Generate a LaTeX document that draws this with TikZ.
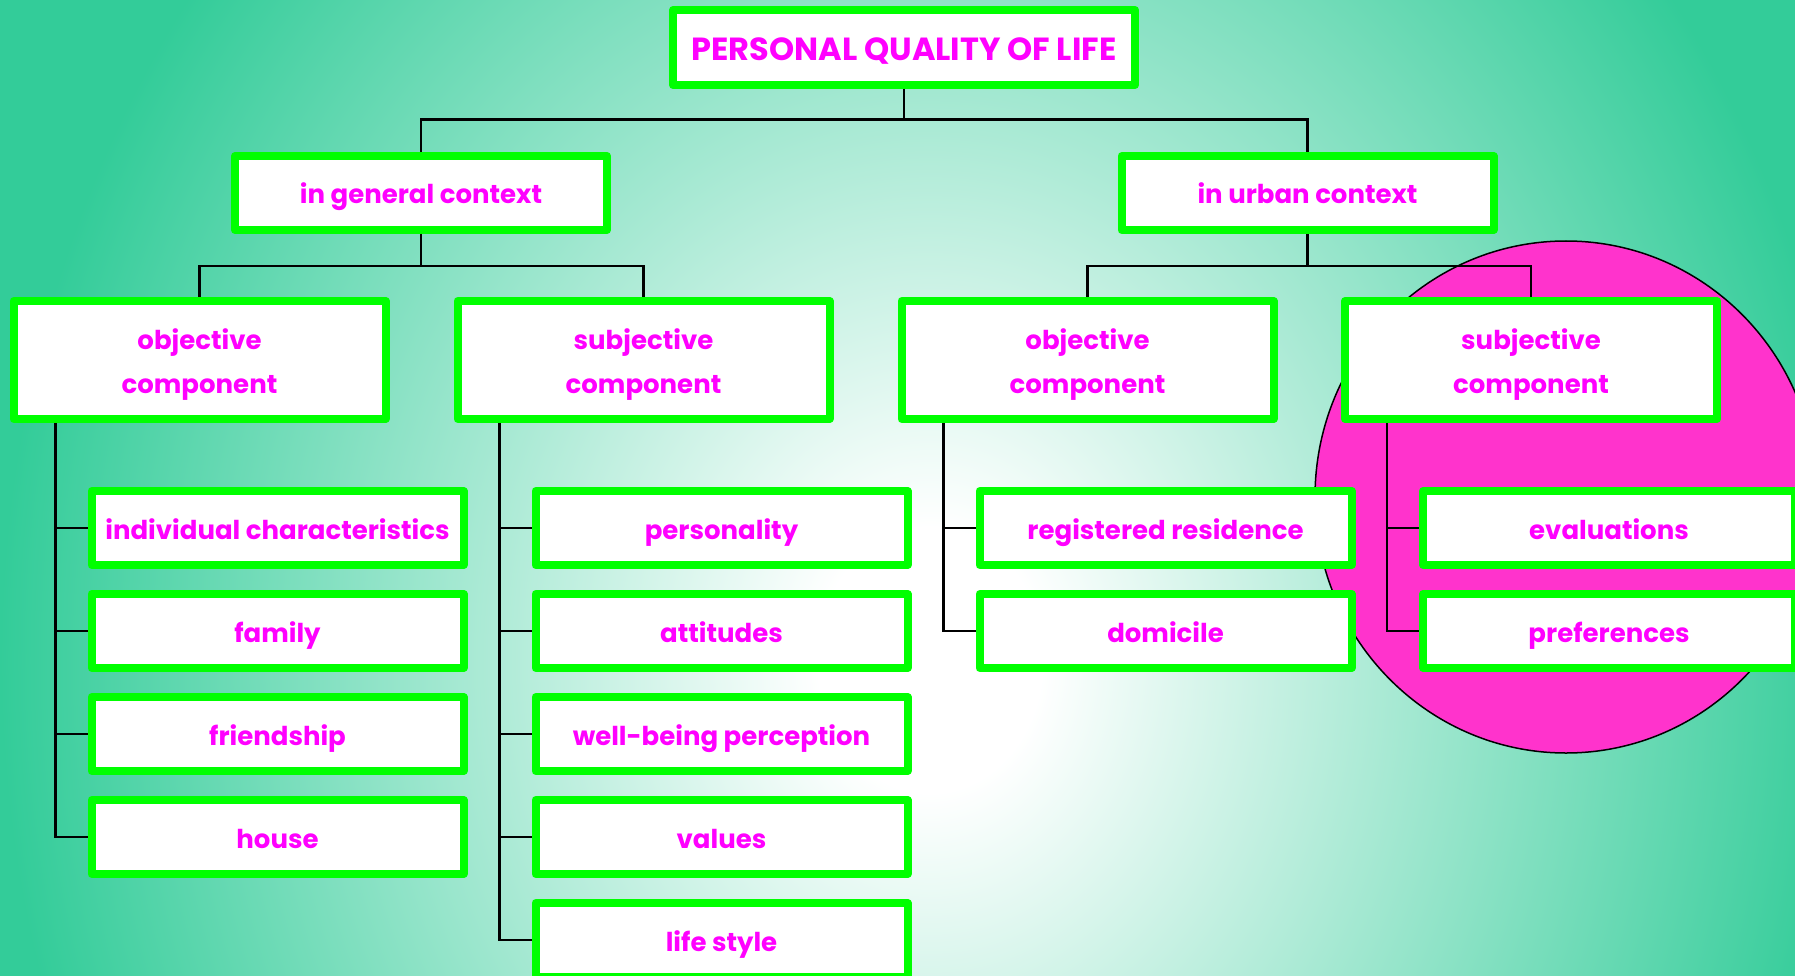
\documentclass[tikz,border=0pt]{standalone}
\usepackage{fontspec}
\setmainfont{Poppins}
\usetikzlibrary{positioning}

\definecolor{boxgreen}{HTML}{00FF00}
\definecolor{textpink}{HTML}{FF00FF}
\definecolor{blobpink}{HTML}{FF33CC}
\definecolor{bgteal}{HTML}{33CC99}

\pgfdeclareradialshading{glow}{\pgfpoint{0bp}{0bp}}{color(0bp)=(white); color(3bp)=(white); color(25bp)=(bgteal); color(50bp)=(bgteal)}

\begin{document}
\begin{tikzpicture}[
    x = 1pt, y = -1pt, % pixel units, y grows downwards
    node distance = 21pt, % gap between stacked boxes
    link/.style = {draw = black, line width = 2.5pt}, % tree lines
    ]

    \tikzset{box/.style = {
    rectangle,
    draw = boxgreen,
    line width = 8pt,
    line join = round,
    fill = white,
    text = textpink,
    font = \bfseries\fontsize{26}{44}\selectfont,
    align = center,
    inner sep = 0pt,
    text height = 24pt,
    text depth = 2pt,
    minimum width = 372pt,
    minimum height = 74pt
    }}
    \tikzset{tallbox/.style = {box, text height = 68pt, text depth = 2pt, minimum height = 118pt}}

    \useasboundingbox (0,0) rectangle (1795,976);
    \begin{scope}
    \clip (0,0) rectangle (1795,976);
    \shade[shading = glow] (0,-440) rectangle (1860,1760);
    \end{scope}

    \draw[fill = blobpink, line width = 1.5pt] (1566,497) ellipse [x radius = 251pt, y radius = 256pt];

    \node[box, minimum width = 462pt, minimum height = 75pt, font = \bfseries\fontsize{32}{40}\selectfont, text height = 27pt, text depth = 0pt] (pqol) at (904,47.5) {PERSONAL QUALITY OF LIFE};
    \node[box] (gen) at (421,193) {in general context};
    \node[box] (urb) at (1307.5,193) {in urban context};

    \node[tallbox] (objgen) at (199.5,360) {objective\\component};
    \node[tallbox] (subjgen) at (643.5,360) {subjective\\component};
    \node[tallbox] (objurb) at (1087.5,360) {objective\\component};
    \node[tallbox] (subjurb) at (1531,360) {subjective\\component};

    \node[box] (indiv) [below=64pt of objgen, xshift=78pt] {individual characteristics};
    \node[box] (family) [below=of indiv] {family};
    \node[box] (friend) [below=of family] {friendship};
    \node[box] (house) [below=of friend] {house};

    \node[box] (person) [below=64pt of subjgen, xshift=78pt] {personality};
    \node[box] (attit) [below=of person] {attitudes};
    \node[box] (wellb) [below=of attit] {well-being perception};
    \node[box] (values) [below=of wellb] {values};
    \node[box] (lifest) [below=of values] {life style};

    \node[box] (regres) [below=64pt of objurb, xshift=78pt] {registered residence};
    \node[box] (domic) [below=of regres] {domicile};

    \node[box] (evals) [below=64pt of subjurb, xshift=78pt] {evaluations};
    \node[box] (prefs) [below=of evals] {preferences};

    \draw[link] (pqol.south) -- ++(0,30.5) -| (gen.north);
    \draw[link] (pqol.south) -- ++(0,30.5) -| (urb.north);
    \draw[link] (gen.south) -- ++(0,32) -| (objgen.north);
    \draw[link] (gen.south) -- ++(0,32) -| (subjgen.north);
    \draw[link] (urb.south) -- ++(0,32) -| (objurb.north);
    \draw[link] (urb.south) -- ++(0,32) -| (subjurb.north);

    \draw[link] ([xshift=46pt]objgen.south west) |- (indiv.west);
    \draw[link] ([xshift=46pt]objgen.south west) |- (family.west);
    \draw[link] ([xshift=46pt]objgen.south west) |- (friend.west);
    \draw[link] ([xshift=46pt]objgen.south west) |- (house.west);

    \draw[link] ([xshift=46pt]subjgen.south west) |- (person.west);
    \draw[link] ([xshift=46pt]subjgen.south west) |- (attit.west);
    \draw[link] ([xshift=46pt]subjgen.south west) |- (wellb.west);
    \draw[link] ([xshift=46pt]subjgen.south west) |- (values.west);
    \draw[link] ([xshift=46pt]subjgen.south west) |- (lifest.west);

    \draw[link] ([xshift=46pt]objurb.south west) |- (regres.west);
    \draw[link] ([xshift=46pt]objurb.south west) |- (domic.west);

    \draw[link] ([xshift=46pt]subjurb.south west) |- (evals.west);
    \draw[link] ([xshift=46pt]subjurb.south west) |- (prefs.west);
\end{tikzpicture}
\end{document}
